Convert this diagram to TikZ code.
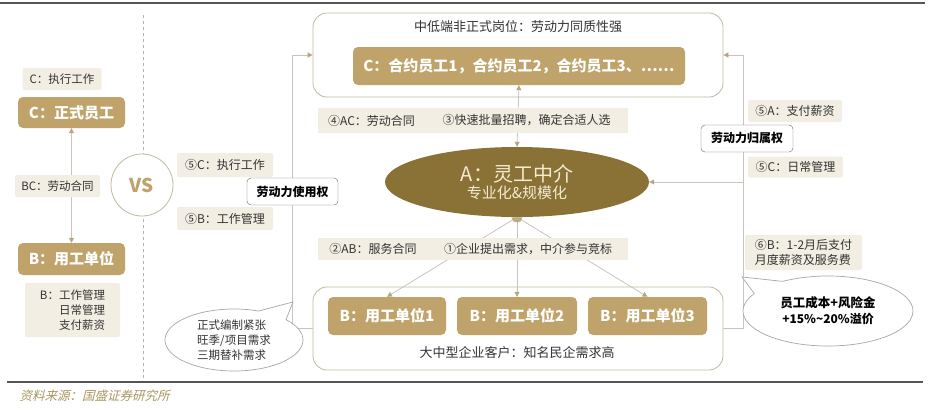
\documentclass[tikz,border=0pt]{standalone}
\usepackage{fontspec}
\setmainfont{Noto Sans CJK SC}
\newfontfamily\srcfont[FakeSlant=0.25]{Noto Sans CJK SC}
\usetikzlibrary{shapes.geometric,shapes.callouts,arrows.meta}
\definecolor{gold}{HTML}{BFA36A}
\definecolor{beige}{HTML}{F2EEE3}
\definecolor{olive}{HTML}{8A7236}
\definecolor{cream}{HTML}{F4EBD0}
\definecolor{framec}{HTML}{C2B89E}
\definecolor{connc}{HTML}{C8C4BA}
\definecolor{arrowc}{HTML}{B8A67E}
\definecolor{txt}{HTML}{333333}
\definecolor{srcc}{HTML}{A8965E}
\definecolor{rulec}{HTML}{555555}
\begin{document}
\begin{tikzpicture}[x=1pt,y=-1pt,
  goldbox/.style={fill=gold, rounded corners=5pt, text=white, inner sep=0pt,
    font=\bfseries\fontsize{15}{18}\selectfont},
  lab/.style={fill=beige, rounded corners=2pt, text=txt, inner sep=0pt,
    font=\fontsize{12}{14}\selectfont},
  smalllab/.style={fill=beige, rounded corners=2pt, text=txt, inner sep=0pt,
    font=\fontsize{11.5}{15}\selectfont},
  rightsbox/.style={fill=white, draw=black!60, rounded corners=4pt, inner sep=0pt,
    text=black, font=\bfseries\fontsize{12}{14}\selectfont},
  framebox/.style={draw=framec, rounded corners=14pt, line width=0.8pt, inner sep=0pt},
  conn/.style={draw=connc, line width=0.8pt},
  arr/.style={-{Triangle[width=5pt,length=5pt,color=arrowc]}},
  darr/.style={{Triangle[width=5pt,length=5pt,color=arrowc]}-{Triangle[width=5pt,length=5pt,color=arrowc]}},
  bubble/.style={ellipse callout, draw=black!35, fill=white, line width=0.7pt, inner sep=0pt, callout pointer arc=28},
]
\useasboundingbox (0,0) rectangle (930,410);

% rules
\draw[rulec, line width=1.1pt] (0,3) -- (925,3);
\draw[rulec, line width=1.1pt] (7,382) -- (923,382);
\node[anchor=west, font=\srcfont\fontsize{12.5}{14}\selectfont, text=srcc] (src) at (16,396) {资料来源：国盛证券研究所};

% dashed separator
\draw[black!30, dash pattern=on 3pt off 3pt, line width=0.6pt] (143,15) -- (143,380);

% left panel
\node[smalllab, minimum width=79, minimum height=22] (cexec) at (62,79) {C：执行工作};
\node[goldbox, minimum width=107, minimum height=31] (cfull) at (71.5,112.5) {C：正式员工};
\node[goldbox, minimum width=107, minimum height=32] (bunit) at (71.5,259) {B：用工单位};
\draw[conn, darr] (cfull.south) -- (bunit.north);
\node[smalllab, minimum width=85, minimum height=22] (bc) at (57.5,186) {BC：劳动合同};
\node[smalllab, minimum width=95, minimum height=54, align=left] (bmgmt) at (72.5,310)
  {B：工作管理\\\phantom{B：}日常管理\\\phantom{B：}支付薪资};
\node[circle, draw=framec, fill=white, line width=0.8pt, minimum size=62, inner sep=0pt,
  text=gold, font=\bfseries\fontsize{19}{22}\selectfont] (vs) at (142,185) {VS};

% frames
\node[framebox, minimum width=410, minimum height=84] (tframe) at (518,55) {};
\node[font=\fontsize{13}{15}\selectfont, text=txt] (ttitle) at (518,27) {中低端非正式岗位：劳动力同质性强};
\node[goldbox, minimum width=332, minimum height=38] (cbox) at (519,66) {C：合约员工1，合约员工2，合约员工3、……};

\node[framebox, minimum width=410, minimum height=83] (bframe) at (518,328.5) {};
\node[goldbox, minimum width=118, minimum height=38] (b1) at (387,316) {B：用工单位1};
\node[goldbox, minimum width=120, minimum height=38] (b2) at (517,316) {B：用工单位2};
\node[goldbox, minimum width=119, minimum height=38] (b3) at (647.5,316) {B：用工单位3};
\node[font=\fontsize{13}{15}\selectfont, text=txt] (btitle) at (517,353) {大中型企业客户：知名民企需求高};

% central ellipse
\node[ellipse, fill=olive, minimum width=264, minimum height=70, inner sep=0pt, text=cream, align=center]
  (ell) at (517,182) {{\fontsize{20}{22}\selectfont A：灵工中介}\\[1pt]{\fontsize{15}{17}\selectfont 专业化\&规模化}};

% connectors
\draw[conn, darr] (cbox.south) -- (ell.north);
\draw[conn, darr] (ell.south) -- (b1.north);
\draw[conn, darr] (ell.south) -- (b2.north);
\draw[conn, darr] (ell.south) -- (b3.north);
\draw[conn, arr] (bframe.west) -- ++(-20,0) |- (tframe.west);
\draw[conn, arr] (bframe.east) -- ++(20,0) coordinate (rb) |- (tframe.east);
\draw[conn, arr] (rb |- ell.east) -- (ell.east);

% strips
\node[lab, minimum width=107, minimum height=25, rounded corners=0pt] (s4) at (371.5,120.5) {④AC：劳动合同};
\node[lab, minimum width=203, minimum height=25, rounded corners=0pt] (s3) at (526.5,120.5) {③快速批量招聘，确定合适人选};
\node[lab, minimum width=110, minimum height=22, rounded corners=0pt] (s2) at (373,249) {②AB：服务合同};
\node[lab, minimum width=200, minimum height=22, rounded corners=0pt] (s1) at (528,249) {①企业提出需求，中介参与竞标};

% left rights labels
\node[lab, minimum width=96, minimum height=24] (u5c) at (225,165) {⑤C：执行工作};
\node[lab, minimum width=96, minimum height=23] (u5b) at (225,218.5) {⑤B：工作管理};
\node[rightsbox, minimum width=91, minimum height=27] (use) at (292.5,191.5) {劳动力使用权};

% right rights labels
\node[lab, minimum width=94, minimum height=22] (o5a) at (795,111) {⑤A：支付薪资};
\node[rightsbox, minimum width=92, minimum height=27] (own) at (747,138.5) {劳动力归属权};
\node[lab, minimum width=95, minimum height=21] (o5c) at (795.5,167) {⑤C：日常管理};
\node[lab, minimum width=117, minimum height=35, align=left, font=\fontsize{12}{15}\selectfont] (o6b) at (803.5,252.5)
  {⑥B：1-2月后支付\\月度薪资及服务费};

% callouts
\node[bubble, minimum width=170, minimum height=70, callout absolute pointer={(742,277)},
  align=center, font=\bfseries\fontsize{12.5}{16}\selectfont, text=black] (cost) at (828,311)
  {员工成本+风险金\\{\fontsize{12}{14}\selectfont +15\%\textasciitilde20\%溢价}};
\node[bubble, minimum width=138, minimum height=62, callout absolute pointer={(293,302)},
  align=left, font=\fontsize{11.5}{15}\selectfont, text=txt] (need) at (234,340)
  {正式编制紧张\\旺季/项目需求\\三期替补需求};

\end{tikzpicture}
\end{document}
